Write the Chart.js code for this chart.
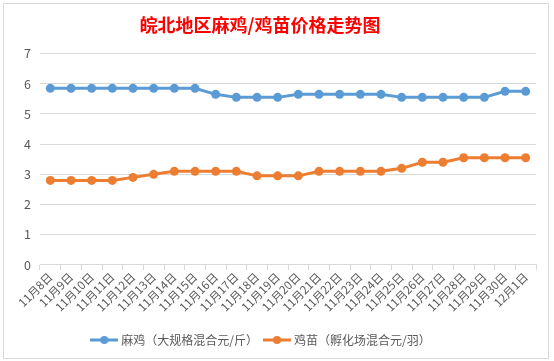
<!DOCTYPE html>
<html>
<head>
<meta charset="utf-8">
<script src="https://cdn.jsdelivr.net/npm/chart.js@4.4.1/dist/chart.umd.min.js"></script>
<style>
    body { margin: 0; background: #fff; }
    #wrap { position: relative; width: 554px; height: 361px; }
    #box { position: absolute; left: 3px; top: 3px; width: 544px; height: 354px; border: 1px solid #d9d9d9; }
    #chart { position: absolute; left: 0; top: 0; }
</style>
</head>
<body>
<div id="wrap">
    <div id="box"></div>
    <canvas id="chart" width="554" height="361"></canvas>
</div>
<script>
// данные графика
const dates = ['11月8日', '11月9日', '11月10日', '11月11日', '11月12日', '11月13日', '11月14日', '11月15日',
    '11月16日', '11月17日', '11月18日', '11月19日', '11月20日', '11月21日', '11月22日', '11月23日',
    '11月24日', '11月25日', '11月26日', '11月27日', '11月28日', '11月29日', '11月30日', '12月1日'];
const chickenPrice = [5.85, 5.85, 5.85, 5.85, 5.85, 5.85, 5.85, 5.85, 5.65, 5.55, 5.55, 5.55,
    5.65, 5.65, 5.65, 5.65, 5.65, 5.55, 5.55, 5.55, 5.55, 5.55, 5.75, 5.75];
const chickPrice = [2.8, 2.8, 2.8, 2.8, 2.9, 3.0, 3.1, 3.1, 3.1, 3.1, 2.95, 2.95,
    2.95, 3.1, 3.1, 3.1, 3.1, 3.2, 3.4, 3.4, 3.55, 3.55, 3.55, 3.55];
const seriesNames = ['麻鸡（大规格混合元/斤）', '鸡苗（孵化场混合元/羽）'];
const yTicks = [0, 1, 2, 3, 4, 5, 6, 7];

const blue = '#5B9BD5';
const orange = '#ED7D31';
const font = '"Noto Sans CJK SC", "Noto Sans", sans-serif';

// значок легенды: линия с точкой
function legendIcon(color) {
    const c = document.createElement('canvas');
    c.width = 28;
    c.height = 10;
    const ctx = c.getContext('2d');
    ctx.strokeStyle = color;
    ctx.lineWidth = 3;
    ctx.beginPath();
    ctx.moveTo(0, 5);
    ctx.lineTo(28, 5);
    ctx.stroke();
    ctx.fillStyle = color;
    ctx.beginPath();
    ctx.arc(14, 5, 4, 0, Math.PI * 2);
    ctx.fill();
    return c;
}

// заголовок и легенда в оригинале сдвинуты левее центра
const shiftBlocks = {
    id: 'shiftBlocks',
    afterLayout(ch) {
        ch.titleBlock.left -= 13;
        ch.titleBlock.right -= 13;
        ch.legend.left -= 11;
        ch.legend.right -= 11;
    }
};

const chart = new Chart(document.getElementById('chart'), {
    type: 'line',
    data: {
        labels: dates,
        datasets: [{
            label: seriesNames[0],
            data: chickenPrice,
            borderColor: blue,
            backgroundColor: blue,
            borderWidth: 3,
            pointRadius: 4.5,
            pointBorderWidth: 0,
            pointStyle: 'circle',
            icon: legendIcon(blue)
        }, {
            label: seriesNames[1],
            data: chickPrice,
            borderColor: orange,
            backgroundColor: orange,
            borderWidth: 3,
            pointRadius: 4.5,
            pointBorderWidth: 0,
            pointStyle: 'circle',
            icon: legendIcon(orange)
        }]
    },
    plugins: [shiftBlocks],
    options: {
        responsive: false,
        animation: false,
        layout: {padding: {left: 10, right: 18, top: 12, bottom: 5}},
        plugins: {
            title: {
                display: true,
                text: '皖北地区麻鸡/鸡苗价格走势图',
                color: '#ff0000',
                font: {family: font, size: 18, weight: 'bold'},
                padding: {top: 2, bottom: 18}
            },
            legend: {
                position: 'bottom',
                labels: {
                    color: '#595959',
                    font: {family: font, size: 12},
                    usePointStyle: true,
                    pointStyleWidth: 22,
                    boxHeight: 10,
                    padding: 8,
                    generateLabels: (ch) => ch.data.datasets.map((ds, i) => ({
                        text: ds.label,
                        fontColor: '#595959',
                        pointStyle: ds.icon,
                        datasetIndex: i,
                        lineWidth: 0,
                        strokeStyle: 'transparent',
                        fillStyle: ds.borderColor
                    }))
                }
            },
            tooltip: {enabled: false}
        },
        scales: {
            x: {
                offset: true,
                afterFit: (scale) => {
                    scale.height += 12;
                },
                grid: {
                    display: true,
                    offset: true,
                    drawOnChartArea: false,
                    drawTicks: true,
                    tickLength: 5,
                    color: '#d9d9d9'
                },
                border: {color: '#d9d9d9'},
                ticks: {
                    color: '#595959',
                    font: {family: font, size: 11.5},
                    minRotation: 45,
                    maxRotation: 45,
                    autoSkip: false,
                    padding: 0
                }
            },
            y: {
                min: yTicks[0],
                max: yTicks[yTicks.length - 1],
                afterBuildTicks: (scale) => {
                    scale.ticks = yTicks.map(v => ({value: v}));
                },
                afterFit: (scale) => {
                    scale.width = 30;
                },
                grid: {color: '#d9d9d9', drawTicks: false},
                border: {display: false},
                ticks: {
                    color: '#595959',
                    font: {family: font, size: 12.5},
                    padding: 9
                }
            }
        }
    }
});
</script>
</body>
</html>
